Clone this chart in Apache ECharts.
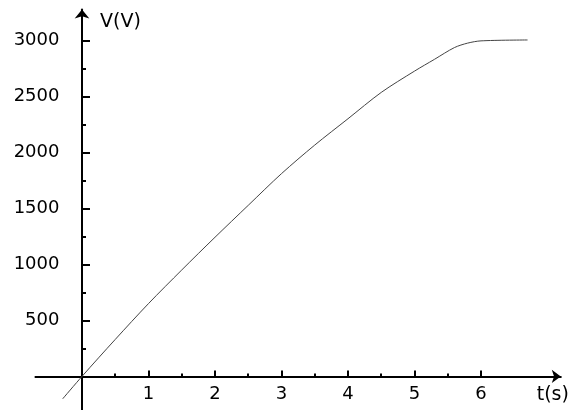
<!DOCTYPE html>
<html>
<head>
<meta charset="utf-8">
<script src="https://cdn.jsdelivr.net/npm/echarts@6/dist/echarts.min.js"></script>
<style>html,body{margin:0;padding:0;background:#fff;}#c{width:577px;height:410px;}</style>
</head>
<body>
<div id="c"></div>
<script>
const timeValues = [-0.29, 0, 0.5, 1, 1.5, 2, 2.5, 3, 3.5, 4, 4.5, 5, 5.3, 5.6, 5.8, 6, 6.7];
const voltageValues = [-200, 0, 330, 650, 950, 1242, 1527, 1810, 2065, 2300, 2535, 2725, 2830, 2935, 2975, 2995, 3003];
const xMajorTicks = [1, 2, 3, 4, 5, 6];
const xMinorTicks = [0.5, 1.5, 2.5, 3.5, 4.5, 5.5];
const yMajorTicks = [500, 1000, 1500, 2000, 2500, 3000];
const yMinorTicks = [250, 750, 1250, 1750, 2250, 2750];
const xName = 't(s)';
const yName = 'V(V)';

const FONT = 'DejaVu Sans';
const chart = echarts.init(document.getElementById('c'), null, {renderer: 'canvas'});
const xRange = {min: -0.7, max: 7.2};
const yRange = {min: -300, max: 3275};
const plain = v => String(v);

chart.setOption({
  animation: false,
  backgroundColor: '#fff',
  grid: {left: 35.45, right: 16.2, top: 9.5, bottom: 0, containLabel: false, outerBoundsMode: 'none'},
  xAxis: [{
    type: 'value', ...xRange,
    position: 'bottom',
    splitLine: {show: false},
    axisLine: {show: true, onZero: true, symbol: ['none', 'arrow'], symbolSize: [10, 9],
      lineStyle: {color: '#000', width: 2}},
    axisTick: {show: true, inside: true, length: 6, customValues: xMajorTicks,
      lineStyle: {color: '#000', width: 2}},
    axisLabel: {show: true, customValues: xMajorTicks, margin: -25, color: '#000',
      fontFamily: FONT, fontSize: 18, formatter: plain},
    name: xName, nameLocation: 'end', nameGap: -8,
    nameTextStyle: {color: '#000', fontFamily: FONT, fontSize: 19, align: 'center',
      verticalAlign: 'top', padding: [9, 0, 0, 0]}
  }, {
    type: 'value', ...xRange,
    position: 'bottom',
    splitLine: {show: false},
    axisLine: {show: false, onZero: true},
    axisTick: {show: true, inside: true, length: 3, customValues: xMinorTicks,
      lineStyle: {color: '#000', width: 2}},
    axisLabel: {show: false}
  }],
  yAxis: [{
    type: 'value', ...yRange,
    position: 'left',
    splitLine: {show: false},
    axisLine: {show: true, onZero: true, symbol: ['none', 'arrow'], symbolSize: [11, 9],
      lineStyle: {color: '#000', width: 2}},
    axisTick: {show: true, inside: true, length: 8, customValues: yMajorTicks,
      lineStyle: {color: '#000', width: 2}},
    axisLabel: {show: true, customValues: yMajorTicks, margin: -24, color: '#000',
      fontFamily: FONT, fontSize: 18, formatter: plain},
    name: yName, nameLocation: 'end', nameGap: -3,
    nameTextStyle: {color: '#000', fontFamily: FONT, fontSize: 19, align: 'left',
      verticalAlign: 'top', padding: [0, 0, 0, 18]}
  }, {
    type: 'value', ...yRange,
    position: 'left',
    splitLine: {show: false},
    axisLine: {show: false, onZero: true},
    axisTick: {show: true, inside: true, length: 4, customValues: yMinorTicks,
      lineStyle: {color: '#000', width: 2}},
    axisLabel: {show: false}
  }],
  series: [{
    type: 'line',
    xAxisIndex: 0, yAxisIndex: 0,
    data: timeValues.map((t, i) => [t, voltageValues[i]]),
    showSymbol: false,
    smooth: 0.3,
    lineStyle: {color: '#444', width: 1}
  }]
});
</script>
</body>
</html>
